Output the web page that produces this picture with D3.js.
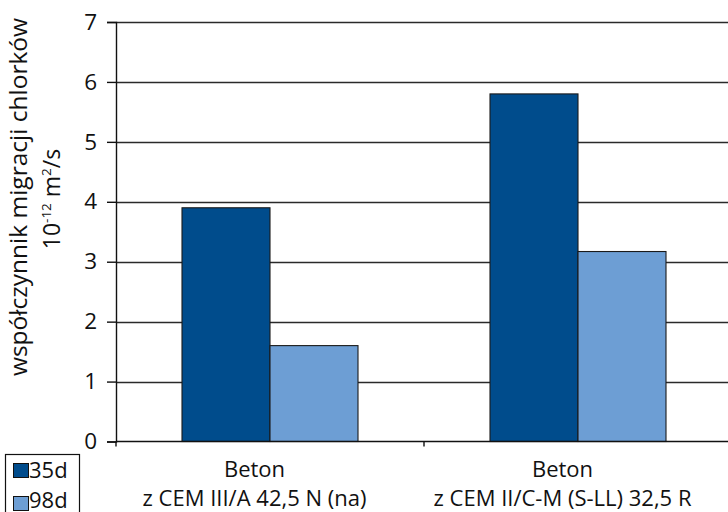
<!DOCTYPE html>
<html>
<head>
<meta charset="utf-8">
<script src="https://cdn.jsdelivr.net/npm/d3@7"></script>
<style>
  html, body { margin: 0; padding: 0; background: #fff; }
  svg { display: block; }
  text { font-family: "Open Sans", "Noto Sans", sans-serif; fill: #111; }
</style>
</head>
<body>
<svg id="chart" width="728" height="512"></svg>
<script>
// Chloride migration coefficient, 10^-12 m²/s
const categories = [
  ["Beton", "z CEM III/A 42,5 N (na)"],
  ["Beton", "z CEM II/C-M (S-LL) 32,5 R"]
];
const seriesNames = ["35d", "98d"];
const values35d = [3.9, 5.8];
const values98d = [1.6, 3.17];
const yTicks = [0, 1, 2, 3, 4, 5, 6, 7];
const yTitle = "współczynnik migracji chlorków";
const colors = ["#004C8C", "#6D9ED4"];

const svg = d3.select("#chart");
const plotLeft = 116, plotRight = 732, plotTop = 22, plotBottom = 441.5;

const catIdx = categories.map((d, i) => i);
const x0 = d3.scaleBand().domain(catIdx).range([plotLeft, plotRight]).padding(0);
const x1 = d3.scaleBand().domain(seriesNames).range([0, x0.bandwidth()])
  .paddingInner(0).paddingOuter(0.75);
const y = d3.scaleLinear().domain([0, 7]).range([plotBottom, plotTop]);

// horizontal gridlines
svg.append("g").selectAll("line").data(yTicks.slice(1)).join("line")
  .attr("x1", plotLeft).attr("x2", 728)
  .attr("y1", d => Math.round(y(d)) + 0.5).attr("y2", d => Math.round(y(d)) + 0.5)
  .attr("stroke", "#2a2a2a").attr("stroke-width", 1.4);

// bars
const series = [values35d, values98d];
const barG = svg.append("g");
catIdx.forEach(ci => {
  seriesNames.forEach((s, si) => {
    const v = series[si][ci];
    barG.append("rect")
      .attr("x", x0(ci) + x1(s))
      .attr("y", y(v))
      .attr("width", x1.bandwidth())
      .attr("height", y(0) - y(v))
      .attr("fill", colors[si])
      .attr("stroke", "#1a1a1a")
      .attr("stroke-width", 1.1);
  });
});

// y axis
const yAxis = d3.axisLeft(y).tickValues(yTicks).tickSize(9).tickPadding(10)
  .tickFormat(d3.format("d"));
const gy = svg.append("g").attr("transform", `translate(${plotLeft},0)`).call(yAxis);
gy.select(".domain").attr("stroke", "#111").attr("stroke-width", 1.4);
gy.selectAll(".tick line").attr("stroke", "#111").attr("stroke-width", 1.4);
gy.selectAll(".tick text").style("font-size", "22.5px").attr("fill", "#111")
  .attr("font-family", null);

// x axis baseline with category dividers
const gx = svg.append("g").attr("transform", `translate(0,${plotBottom})`);
gx.append("line").attr("x1", plotLeft).attr("x2", 728).attr("y1", 0).attr("y2", 0)
  .attr("stroke", "#111").attr("stroke-width", 1.5);
const dividers = catIdx.map(i => x0(i)).concat([plotRight]);
gx.selectAll("line.div").data(dividers).join("line").attr("class", "div")
  .attr("x1", d => d).attr("x2", d => d).attr("y1", 0).attr("y2", 5)
  .attr("stroke", "#111").attr("stroke-width", 1.4);

// category labels
const labelShift = -15.5;
catIdx.forEach(ci => {
  const cx = x0(ci) + x0.bandwidth() / 2 + labelShift;
  categories[ci].forEach((line, li) => {
    svg.append("text").attr("x", cx).attr("y", 477 + li * 29)
      .attr("text-anchor", "middle").style("font-size", "22px").text(line);
  });
});

// y axis title (two lines, rotated)
const title1 = svg.append("g").attr("transform", "translate(0,197) rotate(-90)");
title1.append("text").attr("x", 0).attr("y", 27).attr("text-anchor", "middle")
  .style("font-size", "24.5px").text(yTitle);
const title2 = svg.append("g").attr("transform", "translate(0,199) rotate(-90)");
const unit = title2.append("text").attr("x", 0).attr("y", 60).attr("text-anchor", "middle")
  .style("font-size", "23px");
unit.append("tspan").text("10");
unit.append("tspan").attr("dy", -9).style("font-size", "13.5px").text("-12");
unit.append("tspan").attr("dy", 9).text(" m");
unit.append("tspan").attr("dy", -9).style("font-size", "13.5px").text("2");
unit.append("tspan").attr("dy", 9).text("/s");

// legend
const lg = svg.append("g");
lg.append("rect").attr("x", 5.5).attr("y", 454.5).attr("width", 74).attr("height", 70)
  .attr("fill", "#fff").attr("stroke", "#111").attr("stroke-width", 1.2);
seriesNames.forEach((s, i) => {
  lg.append("rect").attr("x", 13.5).attr("y", 463.5 + i * 33).attr("width", 15).attr("height", 14)
    .attr("fill", colors[i]).attr("stroke", "#111").attr("stroke-width", 1);
  lg.append("text").attr("x", 29).attr("y", 478 + i * 30).style("font-size", "22px").text(s);
});
</script>
</body>
</html>
